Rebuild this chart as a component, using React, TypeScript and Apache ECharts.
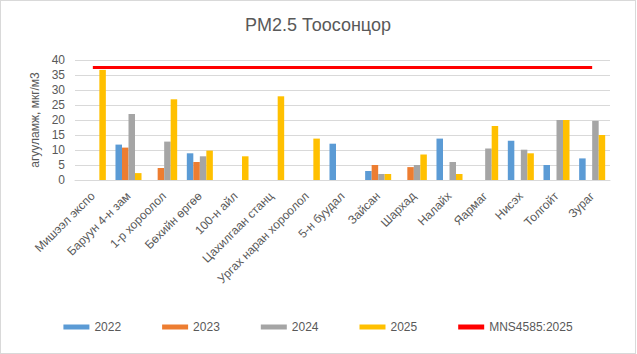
import React, { useEffect, useRef } from "react";
import * as echarts from "echarts";

const categories = [
  "Мишээл экспо",
  "Баруун 4-н зам",
  "1-р хороолол",
  "Бөхийн өргөө",
  "100-н айл",
  "Цахилгаан станц",
  "Ургах наран хороолол",
  "5-н буудал",
  "Зайсан",
  "Шархад",
  "Налайх",
  "Яармаг",
  "Нисэх",
  "Толгойт",
  "Зураг",
];

const v2022 = [null, 11.8, null, 8.9, null, null, null, 12.1, 3.0, null, 13.8, null, 13.1, 5.0, 7.2];
const v2023 = [null, 10.8, 4.0, 6.0, null, null, null, null, 5.0, 4.3, null, null, null, null, null];
const v2024 = [null, 22.0, 12.8, 7.9, null, null, null, null, 2.0, 5.0, 6.0, 10.5, 10.1, 20.0, 19.7];
const v2025 = [36.7, 2.3, 26.9, 9.8, 7.9, 27.9, 13.8, null, 2.0, 8.5, 2.0, 18.0, 8.9, 20.0, 15.0];
const standardValue = 37.5;
const standard = categories.map(() => standardValue);

const yTicks = [0, 5, 10, 15, 20, 25, 30, 35, 40];

const FONT = "'Liberation Sans', Arial, sans-serif";
const TXT = "#595959";

export default function App() {
  const ref = useRef<HTMLDivElement>(null);
  useEffect(() => {
    if (!ref.current) return;
    const chart = echarts.init(ref.current, undefined, { renderer: "svg" });
    const bar = (name: string, data: (number | null)[], color: string) => ({
      name,
      type: "bar",
      data,
      barGap: "0%",
      barCategoryGap: "27%",
      itemStyle: { color },
    });
    chart.setOption({
      animation: false,
      textStyle: { fontFamily: FONT },
      title: {
        text: "PM2.5 Тоосонцор",
        left: "center",
        top: 10,
        textStyle: { fontFamily: FONT, fontSize: 18, fontWeight: "normal", color: TXT },
      },
      legend: {
        bottom: 15,
        left: "center",
        itemWidth: 26,
        itemHeight: 5,
        itemGap: 41,
        icon: "rect",
        textStyle: { fontFamily: FONT, fontSize: 12, color: TXT },
        data: ["2022", "2023", "2024", "2025", "MNS4585:2025"],
      },
      grid: { left: 74, right: 25, top: 59, bottom: 173 },
      xAxis: {
        type: "category",
        data: categories,
        axisLine: { lineStyle: { color: "#d9d9d9" } },
        axisTick: { show: false },
        axisLabel: {
          rotate: 45,
          interval: 0,
          margin: 14,
          fontSize: 12,
          color: TXT,
          fontFamily: FONT,
        },
      },
      yAxis: {
        type: "value",
        min: yTicks[0],
        max: yTicks[yTicks.length - 1],
        interval: 5,
        name: "агууламж, мкг/м3",
        nameLocation: "middle",
        nameGap: 26,
        nameTextStyle: { fontFamily: FONT, fontSize: 12, color: TXT },
        axisLine: { show: false },
        axisTick: { show: false },
        axisLabel: { fontSize: 12, color: TXT, fontFamily: FONT, margin: 10 },
        splitLine: { lineStyle: { color: "#d9d9d9", width: 1 } },
      },
      series: [
        bar("2022", v2022, "#5B9BD5"),
        bar("2023", v2023, "#ED7D31"),
        bar("2024", v2024, "#A5A5A5"),
        bar("2025", v2025, "#FFC000"),
        {
          name: "MNS4585:2025",
          type: "line",
          data: standard,
          symbol: "none",
          lineStyle: { color: "#FF0000", width: 3 },
          itemStyle: { color: "#FF0000" },
        },
      ],
    });
    return () => chart.dispose();
  }, []);
  return (
    <div
      style={{
        position: "fixed",
        left: 0,
        top: 0,
        width: 636,
        height: 354,
        boxSizing: "border-box",
        border: "1px solid #d9d9d9",
        background: "#fff",
      }}
    >
      <div ref={ref} style={{ width: 634, height: 352 }} />
    </div>
  );
}
